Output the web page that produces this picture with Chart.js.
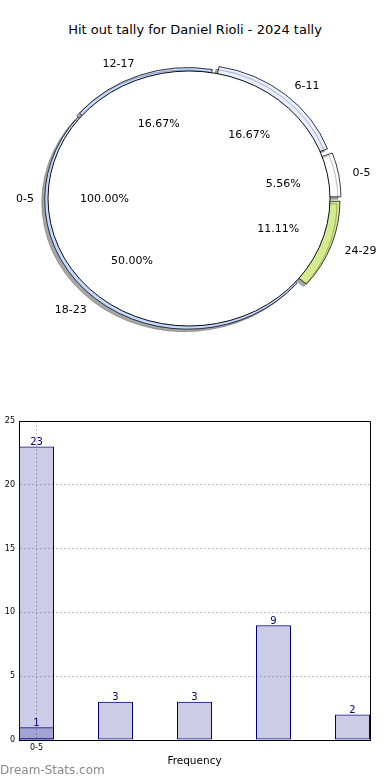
<!DOCTYPE html>
<html>
<head>
<meta charset="utf-8">
<script src="https://cdn.jsdelivr.net/npm/chart.js@4.4.1/dist/chart.umd.min.js"></script>
<style>
  html, body { margin: 0; padding: 0; background: #fff; }
  body { width: 390px; height: 780px; position: relative; overflow: hidden; font-family: 'DejaVu Sans', sans-serif; }
  #title { position: absolute; top: 22px; left: 0; width: 390px; text-align: center; font-size: 13px; line-height: 16px; color: #000; }
  .pie { position: absolute; left: 0; top: 0; }
  #bars { position: absolute; left: 0; top: 410px; }
  #mark { position: absolute; left: 0; top: 762px; font-size: 12px; line-height: 16px; color: #8a8a8a; }
</style>
</head>
<body>
<div id="title">Hit out tally for Daniel Rioli - 2024 tally</div>
<canvas id="pieBack" class="pie" width="390" height="400"></canvas>
<canvas id="pieFront" class="pie" width="390" height="400"></canvas>
<canvas id="bars" width="390" height="370"></canvas>
<div id="mark">Dream-Stats.com</div>
<script>
'use strict'

// pie data
const binLabels = ['0-5', '6-11', '12-17', '18-23', '24-29'];
const binCounts = [1, 3, 3, 9, 2];
const topLabels = ['0-5'];
const topCounts = [1];

// bar data
const barCounts = [1, 3, 3, 9, 2];
const extraCounts = [23];
const xTickLabels = ['0-5'];

const sliceColours = ['#ffffff', '#e6eeff', '#c4d9ff', '#c4d9ff', '#d3ea8d'];
const explodePx = [11, 9, 4, 4, 10.4];
const SY = 127.5 / 141;   // pie is drawn squashed, like the original
const BAR_W = 0.443;

Chart.defaults.font.family = 'DejaVu Sans';
Chart.defaults.color = '#000';

const rev = arr => arr.slice().reverse();

const squash = {
    id: 'squash',
    beforeDatasetsDraw(chart, args, opts) {
        const ctx = chart.ctx;
        const a = chart.chartArea;
        const cx = (a.left + a.right) / 2, cy = (a.top + a.bottom) / 2;
        ctx.save();
        ctx.translate(cx, cy);
        ctx.scale(1, SY);
        ctx.translate(-cx, -cy);
        if (opts.shadow) {
            ctx.shadowColor = 'rgba(77,77,77,0.5)';
            ctx.shadowOffsetX = -3;
            ctx.shadowOffsetY = 2.5;
            ctx.shadowBlur = 0;
        }
    },
    afterDatasetsDraw(chart, args, opts) {
        const ctx = chart.ctx;
        if (opts.outline) {
            // outline of the full white disc, without the radius seam
            chart.getDatasetMeta(0).data.forEach(arc => {
                ctx.beginPath();
                ctx.arc(arc.x, arc.y, arc.outerRadius, 0, Math.PI * 2);
                ctx.lineWidth = 1;
                ctx.strokeStyle = '#000';
                ctx.stroke();
            });
        }
        ctx.restore();
    }
};

function drawPieLabels(ctx, chart) {
    const meta = chart.getDatasetMeta(0);
    const ds = chart.data.datasets[0];
    const total = ds.data.reduce((s, v) => s + v, 0);
    ctx.save();
    ctx.font = '11px "DejaVu Sans"';
    ctx.fillStyle = '#000';
    ctx.textBaseline = 'middle';
    meta.data.forEach((arc, i) => {
        const mid = (arc.startAngle + arc.endAngle) / 2;
        const circ = arc.endAngle - arc.startAngle;
        const off = arc.options.offset || 0;
        const t = off / 4 * (2 - Math.sin(Math.min(Math.PI, circ)));
        const c = Math.cos(mid), s = Math.sin(mid);
        const r = arc.outerRadius;
        const ox = arc.x + c * t, oy = arc.y + s * t * SY + 1;
        ctx.textAlign = c < 0 ? 'right' : 'left';
        ctx.fillText(chart.data.labels[i], ox + 1.1 * r * c, oy + 1.1 * r * s * SY);
        ctx.textAlign = 'center';
        ctx.fillText((ds.data[i] / total * 100).toFixed(2) + '%', ox + 0.6 * r * c, oy + 0.6 * r * s * SY);
    });
    ctx.restore();
}

const backExplode = rev(explodePx);
const backChart = new Chart(document.getElementById('pieBack'), {
    type: 'pie',
    data: {
        labels: rev(binLabels),
        datasets: [{
            data: rev(binCounts),
            backgroundColor: rev(sliceColours),
            borderColor: '#000',
            borderWidth: 0.8,
            offset: c => {
                const d = c.dataset.data;
                const tot = d.reduce((s, v) => s + v, 0);
                const circ = d[c.dataIndex] / tot * Math.PI * 2;
                return 4 * backExplode[c.dataIndex] / (2 - Math.sin(Math.min(Math.PI, circ)));
            }
        }]
    },
    options: {
        responsive: false,
        animation: false,
        events: [],
        devicePixelRatio: 1,
        radius: 141,
        rotation: 90,
        layout: { padding: { left: 0, right: 12, top: 0, bottom: 3 } },
        plugins: { legend: { display: false }, tooltip: { enabled: false }, squash: { shadow: true } }
    },
    plugins: [squash]
});

new Chart(document.getElementById('pieFront'), {
    type: 'pie',
    data: {
        labels: topLabels,
        datasets: [{
            data: topCounts,
            backgroundColor: '#ffffff',
            borderWidth: 0
        }]
    },
    options: {
        responsive: false,
        animation: false,
        events: [],
        devicePixelRatio: 1,
        radius: 141,
        rotation: 90,
        layout: { padding: { left: 0, right: 12, top: 0, bottom: 3 } },
        plugins: { legend: { display: false }, tooltip: { enabled: false }, squash: { shadow: false, outline: true } }
    },
    plugins: [squash, {
        id: 'pieLabels',
        afterDraw(chart) {
            drawPieLabels(chart.ctx, backChart);
            drawPieLabels(chart.ctx, chart);
        }
    }]
});

// bar chart
const frame = {
    id: 'frame',
    afterDraw(chart) {
        const ctx = chart.ctx, a = chart.chartArea;
        ctx.save();
        ctx.strokeStyle = '#000';
        ctx.lineWidth = 1;
        ctx.beginPath();
        ctx.moveTo(Math.round(a.left), Math.round(a.top) + 0.5);
        ctx.lineTo(Math.round(a.right) + 0.5, Math.round(a.top) + 0.5);
        ctx.lineTo(Math.round(a.right) + 0.5, Math.round(a.bottom));
        ctx.stroke();
        // y title, mostly cut off at the left edge like the original
        ctx.translate(-1, 535);
        ctx.rotate(-Math.PI / 2);
        ctx.font = '10.5px "DejaVu Sans"';
        ctx.fillStyle = '#000';
        ctx.textAlign = 'center';
        ctx.textBaseline = 'middle';
        ctx.fillText('Hit out tally', 0, 0);
        ctx.restore();
    }
};

const valueLabels = {
    id: 'valueLabels',
    afterDatasetsDraw(chart) {
        const ctx = chart.ctx;
        ctx.save();
        ctx.font = '10px "DejaVu Sans"';
        ctx.fillStyle = '#000080';
        ctx.textAlign = 'center';
        ctx.textBaseline = 'alphabetic';
        chart.data.datasets.forEach((ds, di) => {
            chart.getDatasetMeta(di).data.forEach((el, i) => {
                ctx.fillText(String(ds.data[i].y), el.x, el.y - 1.5);
            });
        });
        ctx.restore();
    }
};

new Chart(document.getElementById('bars'), {
    type: 'bar',
    data: {
        datasets: [{
            data: barCounts.map((v, i) => ({ x: i, y: v })),
            backgroundColor: 'rgba(0,0,128,0.2)',
            borderColor: '#000080',
            borderWidth: 1,
            borderSkipped: false,
            grouped: false,
            categoryPercentage: 1,
            barPercentage: BAR_W
        }, {
            data: extraCounts.map((v, i) => ({ x: i, y: v })),
            backgroundColor: 'rgba(0,0,128,0.2)',
            borderColor: '#000080',
            borderWidth: 1,
            borderSkipped: false,
            grouped: false,
            categoryPercentage: 1,
            barPercentage: BAR_W
        }]
    },
    options: {
        responsive: false,
        animation: false,
        events: [],
        devicePixelRatio: 1,
        layout: { padding: { left: 0, right: 20, top: 11, bottom: 0 } },
        plugins: { legend: { display: false }, tooltip: { enabled: false } },
        scales: {
            x: {
                type: 'linear',
                offset: false,
                min: -BAR_W / 2,
                max: barCounts.length - 1 + BAR_W / 2,
                afterBuildTicks: s => { s.ticks = xTickLabels.map((_, i) => ({ value: i })); },
                afterFit: s => { s.height = 40; },
                ticks: {
                    callback: (v, i) => xTickLabels[i],
                    font: { size: 8 },
                    color: '#000',
                    padding: 3,
                    maxRotation: 0,
                    autoSkip: false
                },
                grid: { color: '#b0b0b0', drawTicks: false, offset: false },
                border: { color: '#000', width: 1, dash: [1.5, 2.5] },
                title: {
                    display: true,
                    text: 'Frequency',
                    font: { size: 10.5 },
                    color: '#000',
                    padding: { top: 0, bottom: 12 }
                }
            },
            y: {
                min: 0,
                max: 25,
                afterFit: s => { s.width = 19; },
                ticks: { stepSize: 5, font: { size: 8 }, color: '#000', padding: 4 },
                grid: { color: '#b0b0b0', drawTicks: false },
                border: { color: '#000', width: 1, dash: [1.5, 2.5] }
            }
        }
    },
    plugins: [frame, valueLabels]
});
</script>
</body>
</html>
